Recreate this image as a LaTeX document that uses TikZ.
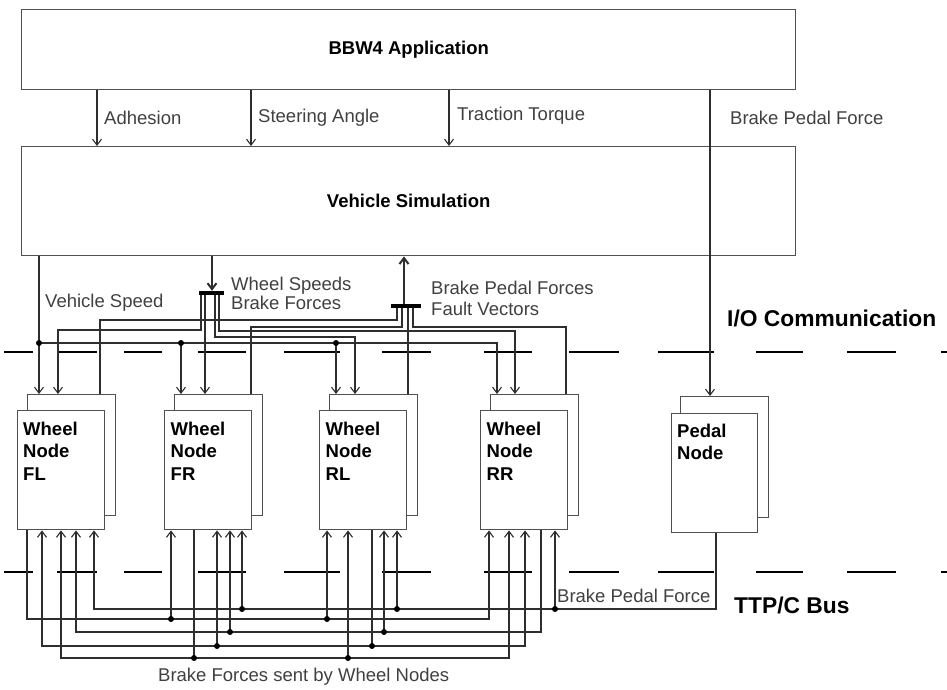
\documentclass[tikz,border=0pt]{standalone}
\usepackage{fontspec}
\setmainfont{Liberation Sans}
\usetikzlibrary{arrows.meta}
\definecolor{boxgray}{HTML}{505050}
\definecolor{wiregray}{HTML}{2E2E2E}
\definecolor{txtgray}{HTML}{404040}
\begin{document}
\begin{tikzpicture}[x=1pt,y=-1pt,
  box/.style={draw=boxgray, line width=1.4pt, inner sep=0, anchor=north west},
  wire/.style={draw=wiregray, line width=1.1pt},
  arr/.style={wire, -{Straight Barb[length=6pt,width=9pt]}},
  rarr/.style={wire, {Straight Barb[length=6pt,width=9pt]}-},
  lbl/.style={text=txtgray, font=\fontsize{18.5}{19}\selectfont, inner sep=0, anchor=west},
  ntxt/.style={font=\bfseries\fontsize{18.5}{22.5}\selectfont, inner sep=0, anchor=north west, align=left},
  big/.style={font=\bfseries\fontsize{22.8}{26}\selectfont, inner sep=0, anchor=west},
  jdot/.style={circle, fill=black, inner sep=0, minimum size=6pt},
  dashln/.style={line width=2.2pt, draw=black},
  barnode/.style={fill=black, inner sep=0, minimum height=4pt},
]
\useasboundingbox (0,0) rectangle (947,689);

% ---- top boxes
\node[box, minimum width=774, minimum height=80, font=\bfseries\fontsize{18.5}{22}\selectfont] (app) at (21,9) {BBW4 Application};
\node[box, minimum width=774, minimum height=109, font=\bfseries\fontsize{18.5}{22}\selectfont] (sim) at (21,146) {Vehicle Simulation};

\draw[arr] (97,0 |- app.south) -- (97,0 |- sim.north);
\draw[arr] (251,0 |- app.south) -- (251,0 |- sim.north);
\draw[arr] (449,0 |- app.south) -- (449,0 |- sim.north);
\node[lbl] (l1) at (104,118) {Adhesion};
\node[lbl] (l2) at (258,118) {Steering Angle};
\node[lbl] (l3) at (457,116) {Traction Torque};
\node[lbl] (l4) at (730,118) {Brake Pedal Force};

% ---- dashed bus lines
\foreach \a/\b in {4/33,57/97,124/162,198/246,284/340,382/431,484/532,569/619,658/714,756/803,847/896,941/947}{
  \draw[dashln] (\a,352) -- (\b,352);
  \draw[dashln] (\a,572) -- (\b,572);
}

% ---- wheel nodes (back then front)
\foreach \n/\x in {FL/17,FR/164,RL/319,RR/480}{
  \node[box, minimum width=88, minimum height=121] (\n b) at (\x+10,394) {};
  \node[box, fill=white, minimum width=87, minimum height=119] (\n) at (\x,410) {};
}
\node[ntxt] (FLt) at ([shift={(6,11.5)}]FL.north west) {Wheel\\Node\\FL};
\node[ntxt] (FRt) at ([shift={(6.5,11.5)}]FR.north west) {Wheel\\Node\\FR};
\node[ntxt] (RLt) at ([shift={(6.5,11.5)}]RL.north west) {Wheel\\Node\\RL};
\node[ntxt] (RRt) at ([shift={(6.5,11.5)}]RR.north west) {Wheel\\Node\\RR};

% pedal node
\node[box, minimum width=88, minimum height=121] (Pb) at (680,396) {};
\node[box, fill=white, minimum width=86, minimum height=119] (P) at (671,413) {};
\node[ntxt] (Pt) at ([shift={(6,10.5)}]P.north west) {Pedal\\Node};

\draw[arr] (710,0 |- app.south) -- (710,0 |- Pb.north);

% ---- I/O communication wiring
\node[lbl] (vsl) at (45,303) {Vehicle Speed};
\draw[arr] (39,0 |- sim.south) -- (39,0 |- FLb.north);
\draw[arr] (39,343) -| (497,0 |- RRb.north);
\draw[arr] (181,343) -- (181,0 |- FRb.north);
\draw[arr] (336,343) -- (336,0 |- RLb.north);
\node[jdot] at (39,343) {};
\node[jdot] at (181,343) {};
\node[jdot] at (336,343) {};

% wheel speeds / brake forces bar
\node[barnode, minimum width=25pt] (wsbar) at (211.5,293) {};
\draw[wire, line width=2pt, -{Straight Barb[length=6pt,width=9pt]}] (212,0 |- sim.south) -- (212,0 |- wsbar.north);
\node[lbl, align=left] (wsl) at (231,293.5) {Wheel Speeds\\Brake Forces};
\draw[arr] (201,0 |- wsbar.south) |- (58,330) -- (58,0 |- FLb.north);
\draw[arr] (205,0 |- wsbar.south) -- (205,0 |- FRb.north);
\draw[arr] (215,0 |- wsbar.south) |- (355,337) -- (355,0 |- RLb.north);
\draw[arr] (219,0 |- wsbar.south) |- (515,331) -- (515,0 |- RRb.north);

% brake pedal forces / fault vectors bar
\node[barnode, minimum width=30pt] (bpbar) at (406,306) {};
\draw[wire, line width=2pt, {Straight Barb[length=6pt,width=9pt]}-] (404,0 |- sim.south) -- (404,0 |- bpbar.north);
\node[lbl, align=left, font=\fontsize{18.5}{21}\selectfont] (bpl) at (431,298.5) {Brake Pedal Forces\\Fault Vectors};
\draw[wire] (100,0 |- FLb.north) |- (397,320) -- (397,0 |- bpbar.south);
\draw[wire] (251,0 |- FRb.north) |- (402,327) -- (402,0 |- bpbar.south);
\draw[wire] (408,0 |- RLb.north) -- (408,0 |- bpbar.south);
\draw[wire] (566,0 |- RRb.north) |- (413,327) -- (413,0 |- bpbar.south);

\node[big] (io) at (727,318) {I/O Communication};

% ---- TTP/C bus wiring
% FL output bus (y=619)
\draw[arr] (27,0 |- FL.south) |- (489,619) -- (489,0 |- RR.south);
\draw[arr] (171,619) -- (171,0 |- FR.south);
\draw[arr] (327,619) -- (327,0 |- RL.south);
\node[jdot] at (171,619) {};
\node[jdot] at (327,619) {};
% FR output bus (y=658)
\draw[wire] (194,0 |- FR.south) -- (194,658);
\draw[arr] (194,658) -| (61,0 |- FL.south);
\draw[arr] (194,658) -| (509,0 |- RR.south);
\draw[arr] (348,658) -- (348,0 |- RL.south);
\node[jdot] at (194,658) {};
\node[jdot] at (348,658) {};
% RL output bus (y=646)
\draw[wire] (372,0 |- RL.south) -- (372,646);
\draw[arr] (372,646) -| (42,0 |- FL.south);
\draw[arr] (372,646) -| (525,0 |- RR.south);
\draw[arr] (217,646) -- (217,0 |- FR.south);
\node[jdot] at (372,646) {};
\node[jdot] at (217,646) {};
% RR output bus (y=632)
\draw[arr] (541,0 |- RR.south) |- (76,632) -- (76,0 |- FL.south);
\draw[arr] (230,632) -- (230,0 |- FR.south);
\draw[arr] (384,632) -- (384,0 |- RL.south);
\node[jdot] at (230,632) {};
\node[jdot] at (384,632) {};
% pedal bus (y=609)
\draw[arr] (716,0 |- P.south) |- (94,609) -- (94,0 |- FL.south);
\draw[arr] (242,609) -- (242,0 |- FR.south);
\draw[arr] (397,609) -- (397,0 |- RL.south);
\draw[arr] (555,609) -- (555,0 |- RR.south);
\node[jdot] at (242,609) {};
\node[jdot] at (397,609) {};
\node[jdot] at (555,609) {};

\node[lbl] (bpf) at (557,596) {Brake Pedal Force};
\node[big] (ttp) at (734,605) {TTP/C Bus};
\node[lbl] (bfs) at (158,677) {Brake Forces sent by Wheel Nodes};
\end{tikzpicture}
\end{document}
